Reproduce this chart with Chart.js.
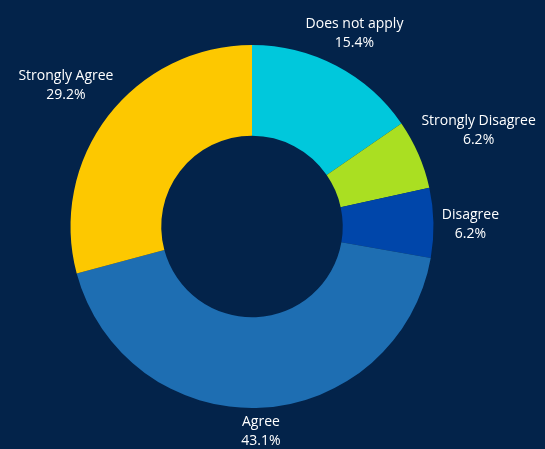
<!DOCTYPE html>
<html>
<head>
<meta charset="utf-8">
<script src="https://cdn.jsdelivr.net/npm/chart.js@4/dist/chart.umd.min.js"></script>
<style>
  html, body { margin: 0; padding: 0; background: #03234a; }
  #wrap { width: 545px; height: 449px; position: relative; }
</style>
</head>
<body>
<div id="wrap"><canvas id="donut"></canvas></div>
<script>
// respostas da pesquisa (%)
const categorias = ['Does not apply', 'Strongly Disagree', 'Disagree', 'Agree', 'Strongly Agree'];
const percentuais = [15.4, 6.2, 6.2, 43.1, 29.2];
const cores = ['#00c8dc', '#aadf22', '#0046aa', '#1e6eb2', '#fdc800'];

// rótulos fora da rosca: nome + percentual, empurrados pelo raio até não encostar no arco
const rotulosFora = {
  id: 'rotulosFora',
  afterDatasetsDraw(chart) {
    const ctx = chart.ctx;
    const meta = chart.getDatasetMeta(0);
    const fonte = '14px "Open Sans", sans-serif';
    const entre = 19, folga = 8, ajusteY = 2;
    ctx.save();
    ctx.font = fonte;
    ctx.fillStyle = '#ffffff';
    ctx.textAlign = 'center';
    ctx.textBaseline = 'middle';
    meta.data.forEach((arc, i) => {
      const { x, y, startAngle, endAngle, outerRadius } = arc.getProps(['x', 'y', 'startAngle', 'endAngle', 'outerRadius'], true);
      const meio = (startAngle + endAngle) / 2;
      const ux = Math.cos(meio), uy = Math.sin(meio);
      const linhas = [categorias[i], percentuais[i].toFixed(1) + '%'];
      const hw = Math.max(...linhas.map(l => ctx.measureText(l).width)) / 2;
      const hh = 13;
      let t = outerRadius;
      for (; t < outerRadius + 200; t += 0.5) {
        const cx = ux * t, cy = uy * t;
        const px = Math.min(Math.max(0, cx - hw), cx + hw);
        const py = Math.min(Math.max(0, cy - hh), cy + hh);
        if (Math.hypot(px, py) >= outerRadius + folga) break;
      }
      const cx = x + ux * t, cy = y + uy * t + ajusteY;
      ctx.fillText(linhas[0], cx, cy - entre / 2);
      ctx.fillText(linhas[1], cx, cy + entre / 2);
    });
    ctx.restore();
  }
};

const ctx = document.getElementById('donut').getContext('2d');
new Chart(ctx, {
  type: 'doughnut',
  data: {
    labels: categorias,
    datasets: [{ data: percentuais, backgroundColor: cores, borderWidth: 0 }]
  },
  options: {
    responsive: true,
    maintainAspectRatio: false,
    animation: false,
    radius: 181.5,
    cutout: '50%',
    layout: { padding: { left: 0, right: 41, top: 4, bottom: 0 } },
    plugins: { legend: { display: false }, tooltip: { enabled: false } }
  },
  plugins: [rotulosFora]
});
</script>
</body>
</html>
